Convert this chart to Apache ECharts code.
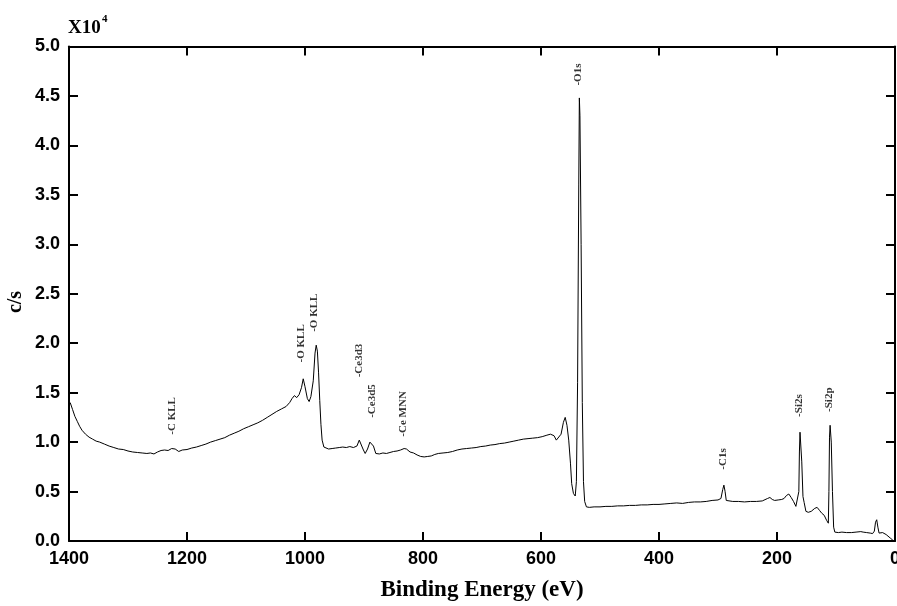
<!DOCTYPE html>
<html>
<head>
<meta charset="utf-8">
<script src="https://cdn.jsdelivr.net/npm/echarts@6/dist/echarts.min.js"></script>
<style>
html,body{margin:0;padding:0;background:#fff;}
#chart{width:897px;height:606px;}
</style>
</head>
<body>
<div id="chart"></div>
<script>
// Binding energy (eV) and intensity (x10^4 c/s)
const energy = [1398,1394,1390,1386,1382,1378,1372,1366,1360,1354,1348,1340,1332,1324,1316,1308,1300,1292,1284,1276,1268,1262,1256,1250,1244,1238,1232,1226,1220,1214,1208,1200,1192,1184,1176,1168,1160,1152,1144,1136,1128,1120,1112,1104,1096,1088,1080,1072,1064,1056,1048,1040,1032,1026,1022,1018,1014,1010,1006,1003,1000,996,993,990,986,983,981,979,977,975,973,971,968,965,960,954,948,942,936,930,924,918,912,908,905,901,898,894,890,887,884,880,874,868,862,856,850,844,838,832,828,822,816,810,804,798,792,786,780,774,766,758,750,742,734,726,718,710,702,694,686,678,670,662,654,646,638,630,622,614,606,598,590,584,578,574,571,566,562,559,556,553,550,548,545,542,540,538,536,535,534,532,530,528,526,523,518,510,500,490,480,470,460,450,440,430,420,410,400,390,380,370,360,350,340,330,320,310,300,295,292,290,288,286,283,275,265,255,245,235,225,216,212,208,204,198,192,188,184,180,176,172,168,165,163,162,161,160,158,156,154,151,147,142,136,132,128,124,120,116,113,112,111,110,108,106,104,102,96,90,82,74,66,58,54,48,42,38,35,33,31,29,27,24,21,18,15,12,8,4,2];
const intensity = [1.40,1.33,1.26,1.21,1.16,1.12,1.08,1.05,1.03,1.01,1.00,0.98,0.96,0.945,0.93,0.925,0.91,0.90,0.895,0.89,0.885,0.89,0.88,0.90,0.915,0.92,0.915,0.935,0.93,0.905,0.92,0.925,0.94,0.95,0.965,0.98,1.00,1.015,1.03,1.045,1.07,1.09,1.11,1.135,1.155,1.175,1.195,1.22,1.25,1.28,1.31,1.335,1.36,1.40,1.44,1.47,1.45,1.48,1.55,1.64,1.56,1.44,1.41,1.46,1.62,1.90,1.98,1.92,1.70,1.42,1.18,1.02,0.95,0.935,0.93,0.935,0.94,0.945,0.95,0.945,0.955,0.945,0.96,1.02,1.00,0.92,0.885,0.93,1.00,1.02,0.96,0.885,0.88,0.89,0.885,0.895,0.905,0.91,0.92,0.935,0.93,0.90,0.89,0.87,0.855,0.85,0.855,0.86,0.875,0.885,0.89,0.895,0.905,0.92,0.93,0.935,0.94,0.945,0.955,0.96,0.97,0.975,0.985,0.99,1.00,1.01,1.02,1.03,1.035,1.04,1.045,1.055,1.07,1.08,1.065,1.02,1.00,1.08,1.20,1.25,1.17,1.02,0.78,0.58,0.48,0.455,0.60,1.60,3.60,4.48,4.30,3.00,1.40,0.60,0.40,0.345,0.34,0.345,0.345,0.35,0.35,0.355,0.355,0.36,0.36,0.365,0.365,0.37,0.37,0.375,0.38,0.385,0.38,0.39,0.395,0.395,0.40,0.41,0.415,0.43,0.52,0.565,0.50,0.41,0.40,0.40,0.40,0.395,0.40,0.40,0.405,0.43,0.44,0.42,0.41,0.415,0.42,0.43,0.46,0.475,0.44,0.40,0.35,0.33,0.50,0.90,1.10,1.08,0.80,0.45,0.39,0.30,0.29,0.30,0.33,0.34,0.31,0.28,0.26,0.21,0.18,0.50,1.05,1.17,1.00,0.50,0.14,0.09,0.085,0.09,0.085,0.085,0.09,0.095,0.09,0.085,0.08,0.075,0.10,0.19,0.215,0.14,0.08,0.075,0.085,0.08,0.065,0.05,0.03,0.01,0.0];

// Peak annotations: text, energy, intensity at the start of the text
const annotText = ['-C KLL','-O KLL','-O KLL','-Ce3d3','-Ce3d5','-Ce MNN','-O1s','-C1s','-Si2s','-Si2p'];
const annotEnergy = [1224,1005,983,908,886,832,537,290,161,110];
const annotIntensity = [1.07,1.80,2.11,1.65,1.24,1.05,4.60,0.716,1.25,1.30];

const xTicks = {min:0, max:1400, interval:200};
const yTicks = {min:0, max:5, interval:0.5};

const chart = echarts.init(document.getElementById('chart'));
const spectrum = energy.map((e,i)=>[e,intensity[i]]);
const annots = annotText.map((t,i)=>({name:t, value:[annotEnergy[i], annotIntensity[i]]}));

const mkLine = () => ({show:true, onZero:false, lineStyle:{color:'#000', width:2}});
const mkTick = () => ({show:true, inside:true, length:9, lineStyle:{color:'#000', width:2}});

chart.setOption({
  animation:false,
  backgroundColor:'#fff',
  grid:{left:69, right:2, top:46.5, bottom:65, containLabel:false, outerBoundsMode:'none'},
  xAxis:[{
    type:'value', inverse:true, min:xTicks.min, max:xTicks.max, interval:xTicks.interval,
    position:'bottom',
    axisLine:mkLine(), axisTick:mkTick(), splitLine:{show:false},
    axisLabel:{color:'#000', fontFamily:'Liberation Sans', fontWeight:'bold', fontSize:18, margin:9,
      formatter:v=>String(v), showMinLabel:true, showMaxLabel:true},
    name:'Binding Energy (eV)', nameLocation:'middle', nameGap:38,
    nameTextStyle:{color:'#000', fontFamily:'Liberation Serif', fontWeight:'bold', fontSize:23}
  },{
    type:'value', inverse:true, min:xTicks.min, max:xTicks.max, interval:xTicks.interval,
    position:'top',
    axisLine:mkLine(), axisTick:mkTick(), splitLine:{show:false}, axisLabel:{show:false}
  }],
  yAxis:[{
    type:'value', min:yTicks.min, max:yTicks.max, interval:yTicks.interval,
    position:'left',
    axisLine:mkLine(), axisTick:mkTick(), splitLine:{show:false},
    axisLabel:{color:'#000', fontFamily:'Liberation Sans', fontWeight:'bold', fontSize:18, margin:9,
      formatter:v=>v.toFixed(1)}
  },{
    type:'value', min:yTicks.min, max:yTicks.max, interval:yTicks.interval,
    position:'right',
    axisLine:mkLine(), axisTick:mkTick(), splitLine:{show:false}, axisLabel:{show:false}
  }],
  graphic:[
    {type:'text', left:68, top:19, style:{text:'X10', fill:'#000', font:'bold 19px "Liberation Serif"'}},
    {type:'text', left:102, top:14, style:{text:'4', fill:'#000', font:'bold 11px "Liberation Serif"'}},
    {type:'text', x:16, y:302, rotation:Math.PI/2,
      style:{text:'c/s', fill:'#000', font:'bold 20px "Liberation Serif"', align:'center', verticalAlign:'middle'}}
  ],
  series:[{
    type:'line', data:spectrum, showSymbol:false, symbol:'none',
    lineStyle:{color:'#000', width:1}, silent:true
  },{
    type:'scatter', data:annots, symbolSize:1, itemStyle:{color:'rgba(0,0,0,0)'}, silent:true,
    label:{show:true, formatter:p=>p.name, rotate:90, position:[0,0], align:'left', verticalAlign:'middle',
      color:'#000', fontFamily:'Liberation Serif', fontWeight:'bold', fontSize:11}
  }]
});
</script>
</body>
</html>
